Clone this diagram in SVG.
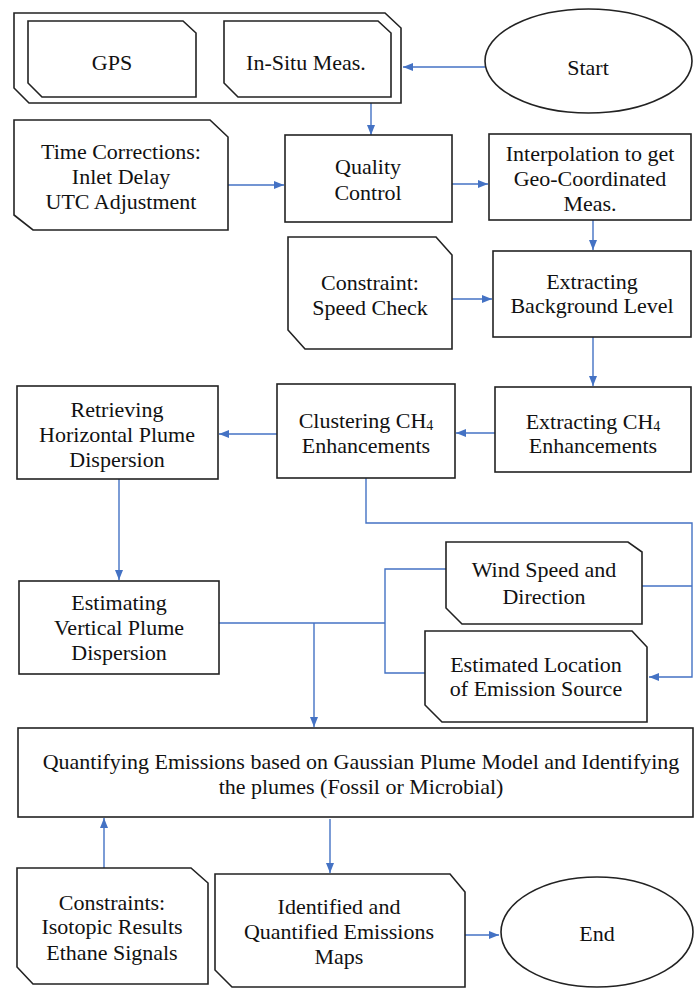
<svg xmlns="http://www.w3.org/2000/svg" width="694" height="988" viewBox="0 0 694 988">
<defs>
<style>
.box{fill:#fff;stroke:#222;stroke-width:1.6}
.ln{fill:none;stroke:#4472C4;stroke-width:1.4}
.t{font-family:"Liberation Serif","Times New Roman",serif;font-size:22px;fill:#111;text-anchor:middle}
.s{font-size:14px}
</style>
<marker id="ah" viewBox="0 0 10 8" refX="10" refY="4" markerWidth="10" markerHeight="8" markerUnits="userSpaceOnUse" orient="auto">
<path d="M0,0 L10,4 L0,8 Z" fill="#4472C4"/>
</marker>
</defs>
<rect width="694" height="988" fill="#fff"/>
<g id="connectors">
<line class="ln" x1="485" y1="67" x2="403" y2="67" marker-end="url(#ah)"/>
<line class="ln" x1="371" y1="103" x2="371" y2="135" marker-end="url(#ah)"/>
<line class="ln" x1="228" y1="185" x2="284" y2="185" marker-end="url(#ah)"/>
<line class="ln" x1="452" y1="184" x2="488" y2="184" marker-end="url(#ah)"/>
<line class="ln" x1="593" y1="220" x2="593" y2="250" marker-end="url(#ah)"/>
<line class="ln" x1="452" y1="299" x2="492" y2="299" marker-end="url(#ah)"/>
<line class="ln" x1="593" y1="337" x2="593" y2="386" marker-end="url(#ah)"/>
<line class="ln" x1="495" y1="433" x2="456" y2="433" marker-end="url(#ah)"/>
<line class="ln" x1="277" y1="434" x2="219" y2="434" marker-end="url(#ah)"/>
<polyline class="ln" points="366,478 366,523 692,523 692,677 649,677" marker-end="url(#ah)"/>
<line class="ln" x1="642" y1="586" x2="692" y2="586"/>
<line class="ln" x1="119" y1="479" x2="119" y2="580" marker-end="url(#ah)"/>
<line class="ln" x1="219" y1="623" x2="385" y2="623"/>
<polyline class="ln" points="446,569 385,569 385,673 425,673"/>
<line class="ln" x1="314" y1="623" x2="314" y2="727" marker-end="url(#ah)"/>
<line class="ln" x1="104" y1="868" x2="104" y2="818" marker-end="url(#ah)"/>
<line class="ln" x1="330" y1="819" x2="330" y2="873" marker-end="url(#ah)"/>
<line class="ln" x1="465" y1="935" x2="499" y2="935" marker-end="url(#ah)"/>
</g>
<g id="input-group">
<path class="box" d="M14,13 L385,13 L401,28 L401,103 L29,103 L14,88 Z"/>
</g>
<g id="gps">
<path class="box" d="M28,21 L183,21 L196,33 L196,97 L42,97 L28,83 Z"/>
<text class="t" x="112" y="70">GPS</text>
</g>
<g id="insitu">
<path class="box" d="M224,21 L378,21 L391,33 L391,97 L238,97 L224,83 Z"/>
<text class="t" x="306" y="70">In-Situ Meas.</text>
</g>
<g id="start">
<ellipse class="box" cx="588.5" cy="61" rx="103.5" ry="52"/>
<text class="t" x="588" y="75">Start</text>
</g>
<g id="time-corrections">
<path class="box" d="M14,120 L210,120 L228,137 L228,230 L33,230 L14,215 Z"/>
<text class="t" x="121" y="159">Time Corrections:</text>
<text class="t" x="121" y="184">Inlet Delay</text>
<text class="t" x="121" y="209">UTC Adjustment</text>
</g>
<g id="quality-control">
<rect class="box" x="285" y="135" width="167" height="87"/>
<text class="t" x="368" y="174">Quality</text>
<text class="t" x="368" y="200">Control</text>
</g>
<g id="interpolation">
<rect class="box" x="489" y="134" width="202" height="86"/>
<text class="t" x="590" y="161">Interpolation to get</text>
<text class="t" x="590" y="186">Geo-Coordinated</text>
<text class="t" x="590" y="211">Meas.</text>
</g>
<g id="speed-check">
<path class="box" d="M288,237 L436,237 L452,255 L452,349 L305,349 L288,330 Z"/>
<text class="t" x="370" y="290">Constraint:</text>
<text class="t" x="370" y="315">Speed Check</text>
</g>
<g id="background">
<rect class="box" x="493" y="251" width="198" height="86"/>
<text class="t" x="592" y="289">Extracting</text>
<text class="t" x="592" y="313">Background Level</text>
</g>
<g id="extracting-ch4">
<rect class="box" x="495" y="387" width="196" height="85"/>
<text class="t" x="593" y="429">Extracting CH<tspan class="s" dy="2">4</tspan></text>
<text class="t" x="593" y="453">Enhancements</text>
</g>
<g id="clustering">
<rect class="box" x="277" y="384" width="178" height="94"/>
<text class="t" x="366" y="428">Clustering CH<tspan class="s" dy="2">4</tspan></text>
<text class="t" x="366" y="453">Enhancements</text>
</g>
<g id="horizontal">
<rect class="box" x="17" y="386" width="201" height="93"/>
<text class="t" x="117" y="417">Retrieving</text>
<text class="t" x="117" y="442">Horizontal Plume</text>
<text class="t" x="117" y="467">Dispersion</text>
</g>
<g id="wind">
<path class="box" d="M446,542 L628,542 L642,552 L642,624 L462,624 L446,608 Z"/>
<text class="t" x="544" y="577">Wind Speed and</text>
<text class="t" x="544" y="604">Direction</text>
</g>
<g id="vertical">
<rect class="box" x="19" y="581" width="200" height="93"/>
<text class="t" x="119" y="610">Estimating</text>
<text class="t" x="119" y="635">Vertical Plume</text>
<text class="t" x="119" y="660">Dispersion</text>
</g>
<g id="location">
<path class="box" d="M425,631 L632,631 L647,647 L647,722 L442,722 L425,705 Z"/>
<text class="t" x="536" y="672">Estimated Location</text>
<text class="t" x="536" y="696">of Emission Source</text>
</g>
<g id="quantifying">
<rect class="box" x="18" y="728" width="675" height="89"/>
<text class="t" x="361" y="769">Quantifying Emissions based on Gaussian Plume Model and Identifying</text>
<text class="t" x="361" y="794">the plumes (Fossil or Microbial)</text>
</g>
<g id="constraints">
<path class="box" d="M17,868 L191,868 L208,883 L208,984 L33,984 L17,967 Z"/>
<text class="t" x="112" y="910">Constraints:</text>
<text class="t" x="112" y="934">Isotopic Results</text>
<text class="t" x="112" y="960">Ethane Signals</text>
</g>
<g id="maps">
<path class="box" d="M215,874 L450,874 L465,892 L465,987 L232,987 L215,970 Z"/>
<text class="t" x="339" y="914">Identified and</text>
<text class="t" x="339" y="939">Quantified Emissions</text>
<text class="t" x="339" y="964">Maps</text>
</g>
<g id="end">
<ellipse class="box" cx="597" cy="932" rx="96" ry="55"/>
<text class="t" x="597" y="941">End</text>
</g>
</svg>
